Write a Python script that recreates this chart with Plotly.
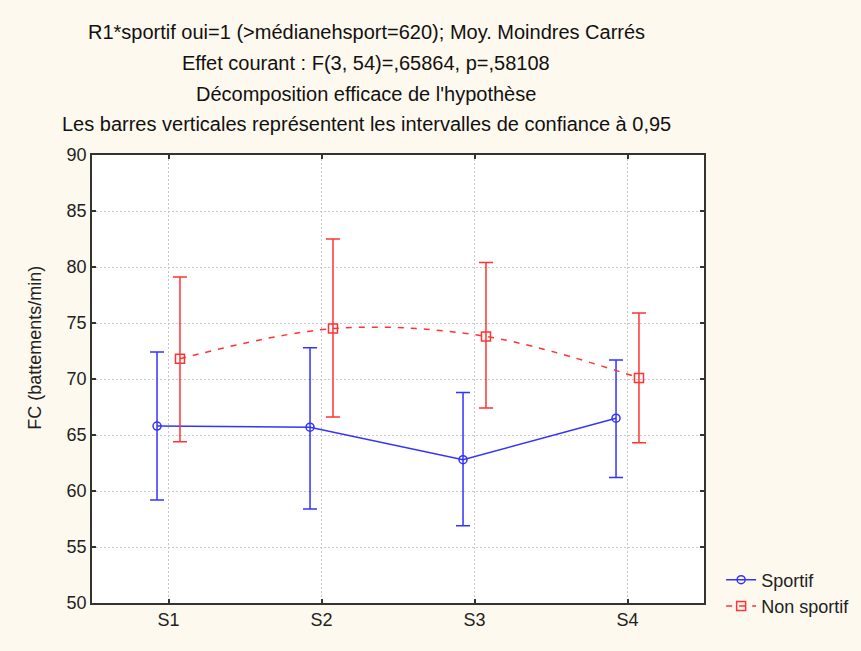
import plotly.graph_objects as go

# data
sessions = ["S1", "S2", "S3", "S4"]
sportif_mean = [65.8, 65.7, 62.8, 66.5]
sportif_low = [59.2, 58.4, 56.9, 61.2]
sportif_high = [72.4, 72.8, 68.8, 71.7]
non_sportif_mean = [71.8, 74.5, 73.8, 70.1]
non_sportif_low = [64.4, 66.6, 67.4, 64.3]
non_sportif_high = [79.1, 82.5, 80.4, 75.9]

title_lines = [
    "R1*sportif oui=1 (>médianehsport=620); Moy. Moindres Carrés",
    "Effet courant : F(3, 54)=,65864, p=,58108",
    "Décomposition efficace de l'hypothèse",
    "Les barres verticales représentent les intervalles de confiance à 0,95",
]
y_title = "FC (battements/min)"

BLUE = "#3333ff"
RED = "#ff3333"
FONT = "Liberation Sans, Arial, sans-serif"
offset = 0.075

pos = list(range(len(sessions)))


def err(mean, low, high):
    return dict(type="data", symmetric=False,
                array=[h - m for h, m in zip(high, mean)],
                arrayminus=[m - l for m, l in zip(mean, low)],
                thickness=1.5, width=7)


fig = go.Figure()
fig.add_trace(go.Scatter(
    x=[p - offset for p in pos], y=sportif_mean, name="Sportif",
    mode="lines+markers",
    line=dict(color=BLUE, width=1.5),
    marker=dict(symbol="circle-open", size=8, color=BLUE, line=dict(width=1.5)),
    error_y=dict(color=BLUE, **err(sportif_mean, sportif_low, sportif_high)),
))
fig.add_trace(go.Scatter(
    x=[p + offset for p in pos], y=non_sportif_mean, name="Non sportif",
    mode="lines+markers",
    line=dict(color=RED, width=1.5, dash="6px,7px", shape="spline", smoothing=1),
    marker=dict(symbol="square-open", size=9, color=RED, line=dict(width=1.5)),
    error_y=dict(color=RED, **err(non_sportif_mean, non_sportif_low, non_sportif_high)),
))

# stacked subtitle lines
for i, txt in enumerate(title_lines):
    fig.add_annotation(text=txt, xref="paper", yref="paper",
                       x=0.448, y=1.2746 - i * 0.0688, xanchor="center", yanchor="middle",
                       showarrow=False, font=dict(family=FONT, size=20, color="#111"))

# y axis title, sits a bit above the axis middle like in the original
fig.add_annotation(text=y_title, xref="paper", yref="paper", x=-0.093, y=0.57,
                   xanchor="center", yanchor="middle", textangle=-90, showarrow=False,
                   font=dict(family=FONT, size=18, color="#222"))

axis_common = dict(showline=True, linecolor="#333", linewidth=1.5, mirror="ticks",
                   ticks="inside", ticklen=4, tickcolor="#333", tickwidth=1.5,
                   showgrid=True, gridcolor="#c8c8c8", griddash="2px,2px", gridwidth=1,
                   zeroline=False, tickfont=dict(family=FONT, size=18, color="#222"))

fig.update_xaxes(range=[-0.5, 3.5], tickvals=pos, ticktext=sessions, **axis_common)
fig.update_yaxes(range=[50, 90], dtick=5, **axis_common)

fig.update_layout(
    width=861, height=651,
    margin=dict(l=92, r=157, t=155, b=48, autoexpand=False),
    paper_bgcolor="#fef9ee",
    plot_bgcolor="white",
    font=dict(family=FONT, color="#222"),
    showlegend=True,
    legend=dict(x=1.028, y=-0.048, xanchor="left", yanchor="bottom",
                bgcolor="rgba(0,0,0,0)", tracegroupgap=0,
                font=dict(family=FONT, size=18, color="#222"),
                itemwidth=30),
)

fig.write_html("out.html", config={"displayModeBar": False},
               post_script="document.body.style.margin='0';")
